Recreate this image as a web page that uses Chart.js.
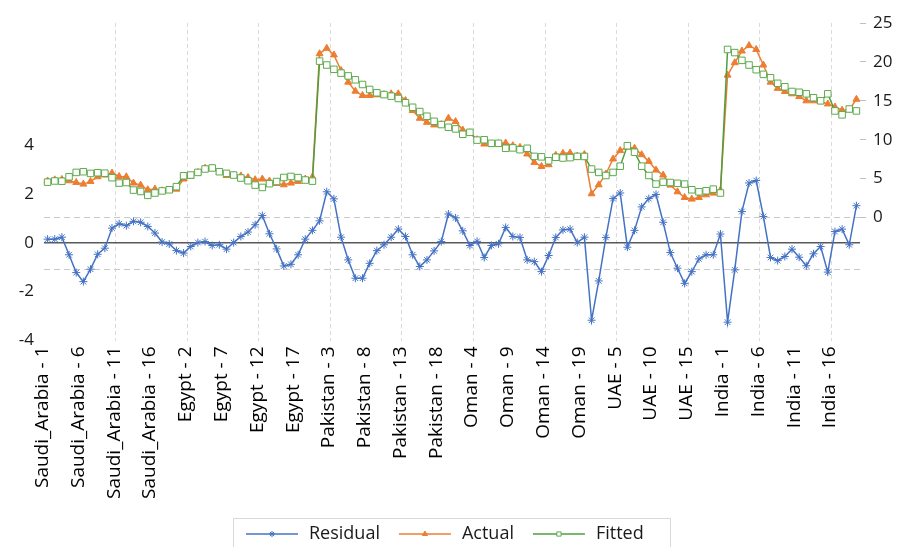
<!DOCTYPE html>
<html>
<head>
<meta charset="utf-8">
<script src="https://cdn.jsdelivr.net/npm/chart.js@4.4.1/dist/chart.umd.min.js"></script>
<style>
  body { margin: 0; background: #fff; }
</style>
</head>
<body>
<canvas id="chart" width="905" height="547"></canvas>
<script>
const countries = ['Saudi_Arabia', 'Egypt', 'Pakistan', 'Oman', 'UAE', 'India']
const periods = 19
const leftTicks = [-4, -2, 0, 2, 4]
const rightTicks = [0, 5, 10, 15, 20, 25]
const seBand = 1.07

// one row per country, 19 periods each
const residual = [
    0.15, 0.15, 0.23, -0.49, -1.22, -1.59, -1.08, -0.47, -0.22, 0.6, 0.78, 0.7, 0.88, 0.84, 0.67, 0.4, 0.03, -0.05, -0.32,
    -0.42, -0.15, 0.01, 0.05, -0.11, -0.08, -0.26, 0.01, 0.26, 0.44, 0.74, 1.12, 0.37, -0.25, -0.95, -0.88, -0.49, 0.15, 0.51,
    0.9, 2.09, 1.8, 0.23, -0.7, -1.45, -1.45, -0.84, -0.32, -0.08, 0.23, 0.56, 0.26, -0.49, -0.97, -0.7, -0.33, 0.05, 1.18,
    1.02, 0.49, -0.11, 0.06, -0.6, -0.11, -0.04, 0.63, 0.26, 0.22, -0.7, -0.77, -1.18, -0.52, 0.22, 0.53, 0.56, 0.01, 0.23,
    -3.17, -1.56, 0.22, 1.81, 2.04, -0.18, 0.51, 1.47, 1.81, 1.98, 0.84, -0.4, -1.04, -1.66, -1.18, -0.66, -0.49, -0.49, 0.36,
    -3.25, -1.11, 1.28, 2.45, 2.55, 1.08, -0.6, -0.73, -0.56, -0.26, -0.59, -0.94, -0.45, -0.15, -1.2, 0.46, 0.56, -0.08, 1.52
]
const actual = [
    4.7, 4.85, 4.9, 4.73, 4.51, 4.3, 4.64, 5.24, 5.46, 5.72, 5.28, 5.24, 4.43, 4.17, 3.57, 3.66, 3.44, 3.5, 3.65,
    4.95, 5.3, 5.8, 6.35, 6.3, 5.8, 5.4, 5.46, 5.35, 5.15, 4.86, 4.95, 4.7, 4.38, 4.21, 4.43, 4.64, 4.95, 5.2,
    21.05, 21.75, 20.9, 18.9, 17.4, 16.24, 15.68, 15.68, 15.77, 15.8, 15.9, 15.9, 15.04, 13.75, 12.76, 12.24, 11.9, 11.95, 12.76,
    12.33, 11.26, 10.9, 10.0, 9.45, 9.45, 9.5, 9.58, 9.24, 9.02, 8.17, 7.09, 6.57, 6.79, 8.0, 8.25, 8.3, 7.9, 8.1,
    3.05, 4.21, 5.6, 7.52, 8.6, 9.05, 8.9, 8.08, 7.22, 6.1, 5.46, 4.17, 3.31, 2.58, 2.37, 2.58, 2.92, 3.14, 3.5,
    18.3, 19.9, 21.4, 22.1, 21.6, 19.6, 17.4, 16.6, 16.2, 15.9, 15.55, 15.0, 15.0, 14.9, 14.6, 14.2, 13.8, 13.85, 15.2
]
const fitted = [
    4.55, 4.7, 4.67, 5.24, 5.8, 5.89, 5.67, 5.76, 5.7, 5.12, 4.43, 4.5, 3.53, 3.35, 2.85, 3.15, 3.42, 3.57, 3.97,
    5.37, 5.46, 5.8, 6.24, 6.37, 5.89, 5.68, 5.46, 5.08, 4.73, 4.17, 3.87, 4.35, 4.63, 5.15, 5.28, 5.13, 4.82, 4.68,
    20.1, 19.6, 19.05, 18.56, 18.2, 17.7, 17.1, 16.46, 16.03, 15.8, 15.6, 15.3, 14.75, 14.17, 13.62, 13.02, 12.37, 11.95, 11.6,
    11.39, 10.7, 10.95, 9.95, 10.0, 9.54, 9.54, 8.9, 8.95, 8.72, 8.9, 7.86, 7.8, 7.3, 7.75, 7.65, 7.7, 7.86, 7.85,
    6.23, 5.8, 5.4, 5.8, 6.6, 9.23, 8.4, 6.6, 5.4, 4.3, 4.55, 4.5, 4.4, 4.3, 3.57, 3.31, 3.44, 3.65, 3.15,
    21.6, 21.2, 20.2, 19.6, 19.0, 18.4, 17.97, 17.25, 16.8, 16.2, 16.1, 15.9, 15.4, 15.0, 15.9, 13.7, 13.2, 13.95, 13.7
]

const labels = []
countries.forEach(c => {
    for (let n = 1; n <= periods; n++) labels.push(c + ' - ' + n)
})

const axisFont = { family: "'Open Sans', sans-serif", size: 17 }

// residual +/- S.E. band and zero line
const refLines = {
    id: 'refLines',
    beforeDatasetsDraw(chart) {
        const { ctx, chartArea: a } = chart
        const y = chart.scales.yRes
        ctx.save()
        ctx.lineWidth = 1
        ctx.strokeStyle = '#c9c9c9'
        ctx.setLineDash([6, 4])
        ;[seBand, -seBand].forEach(v => {
            const py = Math.round(y.getPixelForValue(v)) + 0.5
            ctx.beginPath()
            ctx.moveTo(a.left, py)
            ctx.lineTo(a.right, py)
            ctx.stroke()
        })
        ctx.setLineDash([])
        ctx.strokeStyle = '#595959'
        ctx.lineWidth = 1.5
        const pz = y.getPixelForValue(0)
        ctx.beginPath()
        ctx.moveTo(a.left, pz)
        ctx.lineTo(a.right, pz)
        ctx.stroke()
        ctx.restore()
    }
}

// excel style legend in a box, line + marker
const boxLegend = {
    id: 'boxLegend',
    afterDraw(chart) {
        const ctx = chart.ctx
        ctx.save()
        ctx.strokeStyle = '#d9d9d9'
        ctx.lineWidth = 1
        ctx.strokeRect(233.5, 518.5, 437, 40)
        ctx.font = "18px 'Open Sans', sans-serif"
        ctx.textBaseline = 'middle'
        const y = 534
        let x = 246
        chart.data.datasets.forEach(ds => {
            ctx.strokeStyle = ds.borderColor
            ctx.lineWidth = 1.5
            ctx.beginPath()
            ctx.moveTo(x, y)
            ctx.lineTo(x + 52, y)
            ctx.stroke()
            ctx.fillStyle = ds.pointBackgroundColor
            ctx.strokeStyle = ds.pointBorderColor
            ctx.lineWidth = 1
            Chart.helpers.drawPoint(ctx, { pointStyle: ds.pointStyle, radius: 3, borderWidth: 1, rotation: 0 }, x + 26, y)
            ctx.fillStyle = '#1a1a1a'
            ctx.fillText(ds.label, x + 63, y)
            x += 63 + ctx.measureText(ds.label).width + 19
        })
        ctx.restore()
    }
}

const ctx = document.querySelector('#chart').getContext('2d')
const chart = new Chart(ctx, {
    type: 'line',
    data: {
        labels: labels,
        datasets: [{
            label: 'Residual',
            data: residual,
            yAxisID: 'yRes',
            borderColor: '#4472C4',
            borderWidth: 1.5,
            pointStyle: 'star',
            pointRadius: 4,
            pointBorderWidth: 1,
            pointBorderColor: '#4472C4',
            pointBackgroundColor: '#4472C4',
            order: 2
        }, {
            label: 'Actual',
            data: actual,
            yAxisID: 'yVal',
            borderColor: '#ED7D31',
            borderWidth: 1.5,
            pointStyle: 'triangle',
            pointRadius: 4,
            pointBorderWidth: 1,
            pointBorderColor: '#ED7D31',
            pointBackgroundColor: '#ED7D31',
            order: 1
        }, {
            label: 'Fitted',
            data: fitted,
            yAxisID: 'yVal',
            borderColor: '#4E9E3F',
            borderWidth: 1.5,
            pointStyle: 'rect',
            pointRadius: 4.6,
            pointBorderWidth: 1,
            pointBorderColor: '#5DAA4C',
            pointBackgroundColor: '#ffffff',
            order: 0
        }]
    },
    options: {
        responsive: false,
        animation: false,
        layout: {
            padding: { top: 23, left: 0, right: 0, bottom: 0 }
        },
        plugins: {
            legend: { display: false },
            tooltip: { enabled: false }
        },
        scales: {
            x: {
                type: 'category',
                offset: true,
                grid: {
                    offset: true,
                    drawTicks: false,
                    lineWidth: 1,
                    color: c => (c.index > 0 && c.index % 10 === 0) ? '#dadada' : 'rgba(0,0,0,0)'
                },
                border: { display: false, dash: [4, 3] },
                ticks: {
                    autoSkip: false,
                    maxRotation: 90,
                    minRotation: 90,
                    padding: 6,
                    labelOffset: -5,
                    color: '#000',
                    font: { family: "'Open Sans', sans-serif", size: 19 },
                    callback: (v, i) => i % 5 === 0 ? labels[i] : ''
                },
                afterFit: s => { s.height = 206.5 }
            },
            yRes: {
                position: 'left',
                min: -4,
                max: 9,
                grid: { display: false, drawTicks: false },
                border: { display: false },
                ticks: { padding: 10, color: '#1a1a1a', font: axisFont },
                afterBuildTicks: s => { s.ticks = leftTicks.map(v => ({ value: v })) },
                afterFit: s => { s.width = 44 }
            },
            yVal: {
                position: 'right',
                min: -15.8,
                max: 25,
                grid: { drawOnChartArea: false, drawTicks: true, tickLength: 6, tickColor: '#bfbfbf' },
                border: { display: false },
                ticks: { padding: 7, color: '#1a1a1a', font: axisFont },
                afterBuildTicks: s => { s.ticks = rightTicks.map(v => ({ value: v })) },
                afterFit: s => { s.width = 45 }
            }
        }
    },
    plugins: [refLines, boxLegend]
})
</script>
</body>
</html>
